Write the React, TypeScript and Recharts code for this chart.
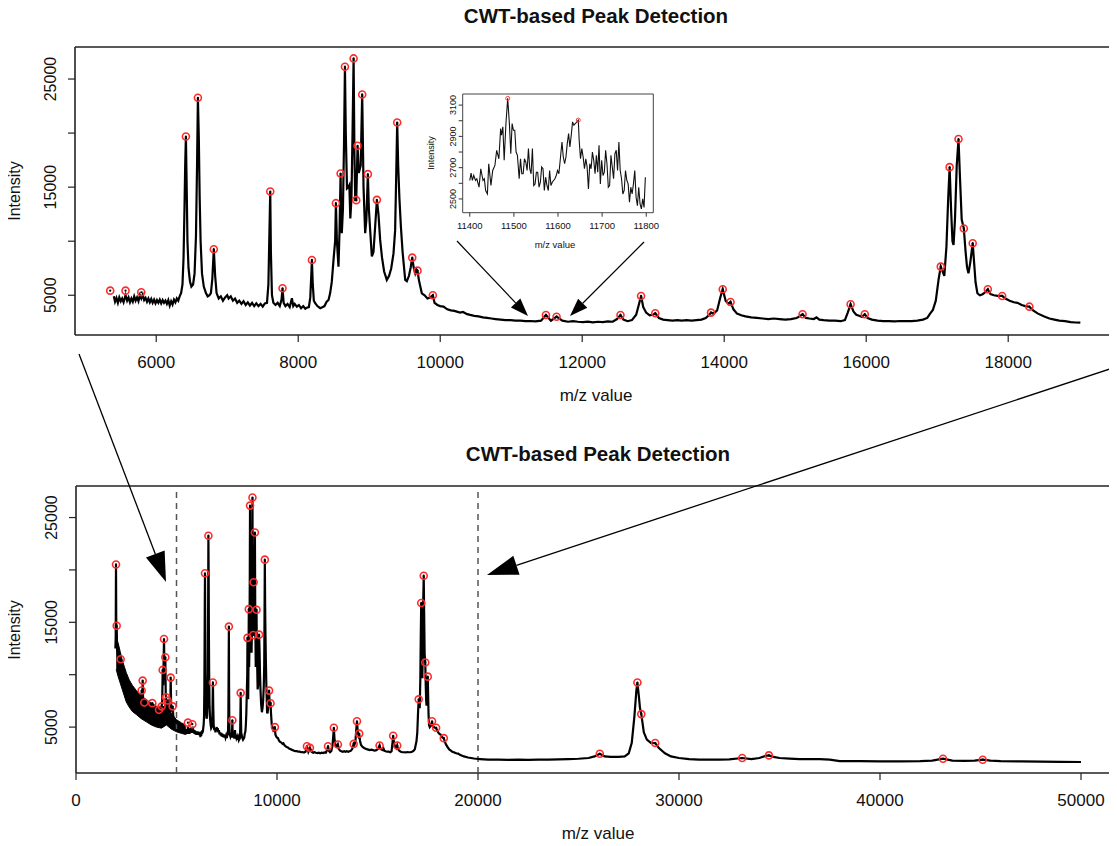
import React from 'react';
import { ComposedChart, Line, Scatter, Area, XAxis, YAxis, ReferenceLine } from 'recharts';

const FONT = '"Liberation Sans", Arial, Helvetica, sans-serif';

// ---------- main spectrum (m/z 5400 - 19000) ----------
const topMz = [
  5403, 5420, 5440, 5460, 5480, 5500, 5520, 5540, 5568, 5590, 5610, 5630, 5650, 5670, 5690, 5710, 5730, 5750, 5770, 5790,
  5810, 5830, 5850, 5870, 5890, 5910, 5930, 5950, 5970, 5990, 6010, 6030, 6050, 6070, 6090, 6110, 6130, 6150, 6170, 6190,
  6210, 6230, 6250, 6270, 6290, 6310, 6330, 6350, 6370, 6385, 6398, 6408, 6418, 6428, 6440, 6455, 6475, 6495, 6519, 6540,
  6560, 6575, 6587, 6600, 6612, 6625, 6645, 6670, 6700, 6725, 6750, 6770, 6790, 6811, 6830, 6850, 6880, 6910, 6940, 6970,
  7000, 7020, 7050, 7080, 7110, 7140, 7170, 7200, 7230, 7260, 7290, 7320, 7350, 7380, 7410, 7440, 7470, 7500, 7530, 7560,
  7580, 7595, 7606, 7615, 7630, 7650, 7680, 7710, 7740, 7765, 7779, 7795, 7820, 7850, 7880, 7911, 7930, 7950, 7981, 8010,
  8040, 8070, 8100, 8121, 8150, 8170, 8185, 8193, 8205, 8220, 8239, 8270, 8310, 8340, 8370, 8400, 8427, 8450, 8473, 8500,
  8520, 8531, 8545, 8567, 8582, 8597, 8605, 8614, 8630, 8645, 8658, 8670, 8687, 8705, 8720, 8734, 8750, 8765, 8780, 8792,
  8803, 8817, 8836, 8853, 8880, 8901, 8920, 8943, 8960, 8981, 8995, 9013, 9037, 9060, 9085, 9108, 9130, 9154, 9180, 9210,
  9248, 9280, 9310, 9342, 9365, 9380, 9394, 9408, 9425, 9446, 9470, 9507, 9530, 9560, 9585, 9606, 9625, 9648, 9665, 9680,
  9700, 9741, 9780, 9820, 9860, 9896, 9920, 9960, 10000, 10046, 10100, 10150, 10200, 10234, 10280, 10320, 10380, 10422, 10480, 10540,
  10600, 10660, 10720, 10780, 10850, 10920, 10990, 11060, 11130, 11200, 11270, 11340, 11420, 11489, 11560, 11639, 11720, 11800, 11870, 11940,
  12010, 12080, 12150, 12220, 12290, 12360, 12430, 12490, 12539, 12580, 12640, 12700, 12760, 12800, 12829, 12860, 12900, 12950, 13000, 13029,
  13080, 13140, 13200, 13270, 13340, 13400, 13470, 13540, 13610, 13680, 13740, 13790, 13814, 13850, 13900, 13945, 13979, 14020, 14060, 14089,
  14130, 14180, 14240, 14300, 14380, 14460, 14540, 14620, 14700, 14780, 14860, 14940, 15020, 15060, 15104, 15150, 15200, 15260, 15300, 15340,
  15400, 15480, 15560, 15640, 15700, 15740, 15780, 15820, 15860, 15900, 15940, 15980, 16020, 16080, 16160, 16240, 16320, 16400, 16480, 16560,
  16640, 16720, 16800, 16860, 16900, 16939, 16980, 17020, 17050, 17075, 17100, 17130, 17155, 17175, 17195, 17215, 17230, 17250, 17275, 17300,
  17320, 17345, 17375, 17400, 17420, 17440, 17465, 17500, 17520, 17540, 17566, 17600, 17640, 17680, 17713, 17750, 17800, 17850, 17915, 17960,
  18020, 18080, 18130, 18190, 18240, 18298, 18350, 18420, 18500, 18580, 18650, 18720, 18800, 18880, 18950, 19016,
];
const topIntensity = [
  4900, 4400, 4750, 4300, 4800, 4450, 4700, 4350, 5000, 4500, 4800, 4350, 4700, 4400, 4900, 4500, 4800, 4450, 5000, 4700,
  5050, 4550, 4750, 4400, 4700, 4350, 4650, 4300, 4600, 4250, 4550, 4300, 4600, 4250, 4550, 4300, 4500, 4200, 4550, 4050,
  4450, 4150, 4600, 4350, 4700, 4500, 4900, 5200, 6000, 8500, 13000, 17000, 19685, 15500, 10000, 7500, 6300, 5800, 6000, 7000,
  10500, 17000, 23268, 19500, 14000, 10000, 7000, 5800, 5200, 4900, 5000, 5200, 6500, 9259, 6800, 5200, 4700, 4900, 4500, 4800,
  5000, 4700, 4900, 4500, 4700, 4300, 4500, 4200, 4450, 4100, 4350, 4050, 4300, 4000, 4250, 4000, 4200, 3950, 4250, 4300,
  6000, 11000, 14593, 9000, 5000, 4300, 4100, 4300, 4000, 4600, 5650, 4300, 4000, 4200, 3900, 4722, 4000, 4200, 3950, 4100,
  3800, 4000, 3750, 3850, 3900, 4800, 7000, 8268, 6000, 4500, 4259, 4000, 3800, 3900, 4000, 4400, 4568, 5200, 6260, 8500,
  10000, 13518, 10000, 7650, 11000, 16259, 12000, 10740, 13000, 19000, 26139, 20000, 14880, 15000, 15190, 12100, 14000, 20000, 26907, 18000,
  13800, 13796, 18824, 16300, 17000, 23574, 15000, 10740, 12000, 16204, 13000, 11050, 8590, 9000, 11500, 13824, 12500, 10120, 8500, 7200,
  6420, 6800, 7500, 8870, 11000, 16000, 20981, 17000, 14000, 11360, 9000, 6420, 6300, 6800, 7600, 8481, 7600, 7030, 7400, 7278,
  6400, 5180, 5000, 4700, 4800, 5000, 4300, 4100, 4000, 3950, 3700, 3600, 3550, 3490, 3400, 3450, 3250, 3180, 3100, 3050,
  2950, 2900, 2850, 2800, 2750, 2700, 2700, 2650, 2650, 2600, 2620, 2580, 2650, 3176, 2650, 3019, 2650, 2550, 2600, 2550,
  2520, 2560, 2500, 2550, 2520, 2580, 2550, 2800, 3176, 2750, 2600, 2700, 3200, 4200, 4935, 3900, 3400, 3150, 3200, 3333,
  2900, 2750, 2700, 2650, 2700, 2650, 2700, 2650, 2700, 2750, 2900, 3200, 3394, 3300, 3600, 4800, 5555, 4500, 4200, 4380,
  3700, 3300, 3150, 3050, 2950, 2900, 2850, 2800, 2850, 2800, 2750, 2800, 2900, 3050, 3240, 2900, 2850, 2800, 2950, 2750,
  2700, 2650, 2650, 2600, 2700, 3400, 4167, 3500, 3200, 3100, 3000, 3240, 2900, 2750, 2650, 2600, 2600, 2580, 2620, 2600,
  2600, 2650, 2750, 2900, 3300, 3640, 4500, 6500, 7650, 7200, 6800, 9500, 14000, 16850, 13000, 10000, 9660, 12000, 17000, 19450,
  16000, 12000, 11170, 9000, 7600, 7040, 8000, 9815, 8000, 6200, 5185, 5000, 5100, 5300, 5555, 5100, 5000, 4950, 4935, 4700,
  4500, 4350, 4300, 4100, 4000, 3944, 3600, 3300, 3050, 2850, 2750, 2650, 2600, 2520, 2480, 2463,
];
const topPeakMz = [
  5352, 5568, 5789, 6418, 6587, 6811, 7606, 7779, 8193, 8531, 8597, 8658, 8780, 8817, 8836, 8901, 8981, 9108, 9394, 9606,
  9680, 9896, 11489, 11639, 12539, 12829, 13029, 13814, 13979, 14089, 15104, 15780, 15980, 17050, 17175, 17300, 17375, 17500, 17713, 17915,
  18298,
];
const topPeakIntensity = [
  5426, 5426, 5278, 19685, 23268, 9259, 14593, 5650, 8268, 13518, 16259, 26139, 26907, 13796, 18824, 23574, 16204, 13824, 20981, 8481,
  7278, 5000, 3176, 3019, 3176, 4935, 3333, 3394, 5555, 4380, 3240, 4167, 3240, 7650, 16850, 19450, 11170, 9815, 5555, 4935,
  3944,
];

// ---------- full spectrum extra parts (bottom panel) ----------
const lowMz = [
  1960, 1975, 1990, 2005, 2024, 2045, 2080, 2120, 2160, 2222, 2280, 2350, 2420, 2500, 2580, 2660, 2740, 2820, 2900, 2980,
  3060, 3140, 3220, 3267, 3290, 3317, 3345, 3400, 3450, 3520, 3600, 3680, 3740, 3797, 3850, 3920, 4000, 4060, 4129, 4180,
  4230, 4262, 4290, 4312, 4340, 4378, 4410, 4444, 4465, 4478, 4520, 4560, 4600, 4650, 4690, 4710, 4740, 4808, 4850, 4920,
  5000, 5080, 5160, 5240, 5320, 5400,
];
const lowIntensity = [
  12500, 13500, 20524, 14000, 14676, 12500, 12000, 11500, 11000, 11476, 10300, 9800, 9400, 9000, 8600, 8200, 7900, 7600, 7400, 7200,
  7000, 6900, 6800, 8486, 7000, 9438, 7100, 7343, 6500, 6400, 6300, 6200, 6300, 7286, 6100, 6000, 5900, 5900, 6648, 5800,
  6000, 6980, 7500, 10457, 9000, 13410, 9500, 11667, 8000, 7850, 7000, 7533, 6500, 6200, 6500, 9724, 6500, 6980, 5800, 5600,
  5400, 5300, 5200, 5150, 5100, 5000,
];
const bandMz = [2000, 2100, 2200, 2300, 2400, 2500, 2650, 2800, 3000, 3250, 3500, 3750, 4000, 4250, 4500, 4750, 5000, 5250, 5450];
const bandLow = [10500, 9800, 9200, 8600, 8000, 7400, 6900, 6500, 6200, 5800, 5500, 5200, 5000, 4900, 5200, 4800, 4550, 4400, 4300];
const bandHigh = [13500, 13000, 12200, 11400, 10800, 10200, 9500, 9000, 8500, 8000, 7600, 7300, 7000, 6800, 7200, 6300, 5700, 5400, 5200];
const highMz = [
  19100, 19300, 19500, 19800, 20100, 20500, 21000, 21500, 22000, 22500, 23000, 23500, 24000, 24500, 25000, 25500, 25800, 26060, 26300, 26600,
  27000, 27300, 27500, 27650, 27780, 27880, 27930, 28000, 28060, 28124, 28250, 28400, 28600, 28816, 29000, 29300, 29600, 30000, 30500, 31000,
  31500, 32000, 32500, 33144, 33600, 34000, 34300, 34473, 34700, 35000, 35500, 36000, 37000, 37500, 38000, 39000, 40000, 41000, 42000, 42600,
  43134, 43600, 44200, 44700, 45110, 45500, 46000, 47000, 48000, 49000, 50000,
];
const highIntensity = [
  2350, 2200, 2100, 2000, 1950, 1900, 1900, 1880, 1900, 1880, 1900, 1900, 1920, 1950, 1980, 2050, 2200, 2457, 2200, 2150,
  2150, 2200, 2500, 3500, 6000, 8500, 9250, 8000, 6800, 6238, 4500, 3800, 3500, 3476, 3000, 2500, 2200, 2050, 1950, 1900,
  1900, 1900, 1920, 2048, 1950, 2050, 2250, 2300, 2150, 2050, 2000, 1950, 1950, 1900, 1750, 1750, 1720, 1720, 1750, 1800,
  1981, 1800, 1780, 1800, 1886, 1800, 1750, 1720, 1700, 1680, 1667,
];
const lowPeakMz = [1990, 2024, 2222, 3267, 3317, 3400, 3797, 4129, 4262, 4312, 4378, 4444, 4478, 4560, 4710, 4808];
const lowPeakIntensity = [20524, 14676, 11476, 8486, 9438, 7343, 7286, 6648, 6980, 10457, 13410, 11667, 7850, 7533, 9724, 6980];
const highPeakMz = [26060, 27930, 28124, 28816, 33144, 34473, 43134, 45110];
const highPeakIntensity = [2457, 9250, 6238, 3476, 2048, 2300, 1981, 1886];

// ---------- inset (m/z 11400 - 11800) ----------
const insetMz = [
  11400, 11403, 11406, 11409, 11413, 11416, 11421, 11425, 11430, 11433, 11436, 11440, 11443, 11448, 11452, 11457, 11461, 11466, 11470, 11472,
  11475, 11478, 11482, 11486, 11490, 11493, 11496, 11499, 11502, 11505, 11508, 11512, 11515, 11518, 11521, 11524, 11527, 11530, 11533, 11536,
  11539, 11542, 11545, 11548, 11551, 11554, 11557, 11560, 11563, 11566, 11569, 11572, 11575, 11578, 11581, 11584, 11587, 11590, 11593, 11596,
  11599, 11602, 11605, 11609, 11612, 11615, 11618, 11621, 11624, 11627, 11630, 11633, 11636, 11639, 11642, 11646, 11648, 11651, 11654, 11657,
  11660, 11663, 11666, 11669, 11672, 11675, 11678, 11681, 11684, 11687, 11690, 11693, 11696, 11699, 11702, 11705, 11708, 11711, 11714, 11717,
  11720, 11723, 11726, 11729, 11732, 11735, 11738, 11741, 11744, 11747, 11750, 11753, 11756, 11759, 11762, 11765, 11768, 11771, 11774, 11777,
  11780, 11783, 11786, 11789, 11792, 11795, 11798,
];
const insetIntensity = [
  2618, 2665, 2618, 2650, 2618, 2629, 2575, 2693, 2618, 2629, 2554, 2532, 2725, 2586, 2682, 2714, 2811, 2757, 2950, 2907,
  2961, 2747, 2982, 3143, 2972, 2789, 2982, 2939, 2939, 2800, 2779, 2629, 2757, 2661, 2661, 2757, 2736, 2682, 2822, 2693,
  2661, 2822, 2586, 2596, 2671, 2671, 2575, 2607, 2704, 2693, 2554, 2639, 2586, 2554, 2682, 2586, 2607, 2618, 2629, 2650,
  2682, 2661, 2747, 2864, 2768, 2725, 2768, 2854, 2918, 2832, 2907, 2993, 2972, 2982, 2990, 3004, 2875, 2757, 2822, 2768,
  2693, 2757, 2704, 2564, 2725, 2693, 2800, 2747, 2661, 2779, 2671, 2843, 2596, 2747, 2650, 2671, 2811, 2725, 2575, 2586,
  2779, 2704, 2629, 2789, 2811, 2682, 2864, 2682, 2629, 2532, 2554, 2682, 2618, 2596, 2479, 2575, 2532, 2596, 2682, 2511,
  2457, 2575, 2468, 2436, 2500, 2446, 2639,
];
const insetPeakMz = [11486, 11646];
const insetPeakIntensity = [3143, 3004];

// ---------- axis ticks ----------
const topXTicks = [6000, 8000, 10000, 12000, 14000, 16000, 18000];
const bottomXTicks = [0, 10000, 20000, 30000, 40000, 50000];
const yTicks = [5000, 10000, 15000, 20000, 25000];
const yLabeled = [5000, 15000, 25000];
const insetXTicks = [11400, 11500, 11600, 11700, 11800];
const insetYTicks = [2500, 2600, 2700, 2800, 2900, 3000, 3100];
const insetYLabeled = [2500, 2700, 2900, 3100];
const zoomWindow = [5000, 20000];

// ---------- annotation arrows (page pixels) ----------
const arrows = [
  { x1: 79, y1: 354, x2: 166, y2: 582, len: 30, half: 10, width: 1.3 },
  { x1: 1125, y1: 364, x2: 487, y2: 575, len: 31, half: 10, width: 1.3 },
  { x1: 457, y1: 241, x2: 528, y2: 316, len: 18, half: 6.5, width: 1.2 },
  { x1: 644, y1: 242, x2: 570, y2: 316, len: 18, half: 6.5, width: 1.2 },
];

// ---------- build tables ----------
const topData = topMz.map((mz, i) => ({ mz, int: topIntensity[i] }));
const topPeaks = topPeakMz.map((mz, i) => ({ mz, int: topPeakIntensity[i] }));
const bottomData = [
  ...lowMz.map((mz, i) => ({ mz, int: lowIntensity[i] })),
  ...topData,
  ...highMz.map((mz, i) => ({ mz, int: highIntensity[i] })),
];
const bandData = bandMz.map((mz, i) => ({ mz, band: [bandLow[i], bandHigh[i]] }));
const bottomPeaks = [
  ...lowPeakMz.map((mz, i) => ({ mz, int: lowPeakIntensity[i] })),
  ...topPeaks.filter((p) => p.mz > 5500),
  ...highPeakMz.map((mz, i) => ({ mz, int: highPeakIntensity[i] })),
];
const insetData = insetMz.map((mz, i) => ({ mz, int: insetIntensity[i] }));
const insetPeaks = insetPeakMz.map((mz, i) => ({ mz, int: insetPeakIntensity[i] }));

const PeakMark = (props: any) => {
  const { cx, cy } = props;
  if (cx == null || cy == null) return <g />;
  return (
    <g>
      <circle cx={cx} cy={cy} r={3.5} fill="none" stroke="#ff2b2b" strokeWidth={1.6} />
      <circle cx={cx} cy={cy} r={1.1} fill="#000" />
    </g>
  );
};
const InsetMark = (props: any) => {
  const { cx, cy } = props;
  if (cx == null || cy == null) return <g />;
  return <circle cx={cx} cy={cy} r={2} fill="none" stroke="#ff3b3b" strokeWidth={1} />;
};

const makeYTick = (labeled: number[], fontSize: number, baseX: number) => (props: any) => {
  const { y, payload } = props;
  if (!labeled.includes(payload.value)) return <g />;
  return (
    <text x={baseX} y={y} transform={`rotate(-90 ${baseX} ${y})`} textAnchor="middle" fontSize={fontSize} fontFamily={FONT} fill="#111">
      {payload.value}
    </text>
  );
};

const textStyle = (x: number, y: number, size: number, bold = false, rotate = false): React.CSSProperties => ({
  position: 'absolute',
  left: x,
  top: y,
  transform: `translate(-50%, -50%)${rotate ? ' rotate(-90deg)' : ''}`,
  fontFamily: FONT,
  fontSize: size,
  fontWeight: bold ? 700 : 400,
  color: '#111',
  whiteSpace: 'nowrap',
  lineHeight: 1,
});

const boxStroke = { stroke: '#222', strokeWidth: 1.6 };

const TopChart = () => (
  <ComposedChart width={1140} height={420} margin={{ top: 47, right: 15, bottom: 35, left: 0 }} data={topData}>
    <XAxis dataKey="mz" type="number" domain={[4856, 19645]} allowDataOverflow ticks={topXTicks} interval={0}
      height={50} tickSize={7} tickMargin={14} axisLine={false} tickLine={{ stroke: '#222', strokeWidth: 1.2 }}
      tick={{ fontSize: 17, fill: '#111', fontFamily: FONT }} />
    <YAxis type="number" domain={[1324, 27963]} allowDataOverflow ticks={yTicks} interval={0} width={75}
      tickSize={7} axisLine={false} tickLine={{ stroke: '#222', strokeWidth: 1.2 }} tick={makeYTick(yLabeled, 16, 56)} />
    <ReferenceLine y={27963} {...boxStroke} />
    <ReferenceLine y={1324} {...boxStroke} />
    <ReferenceLine x={4856} {...boxStroke} />
    <Line dataKey="int" type="linear" stroke="#000" strokeWidth={2.2} dot={false} isAnimationActive={false} />
    <Scatter data={topPeaks} dataKey="int" shape={PeakMark} isAnimationActive={false} />
  </ComposedChart>
);

const BottomChart = () => (
  <ComposedChart width={1140} height={426} margin={{ top: 66, right: 15, bottom: 23, left: 0 }} data={bottomData}>
    <XAxis dataKey="mz" type="number" domain={[0, 52189]} allowDataOverflow ticks={bottomXTicks} interval={0}
      height={50} tickSize={7} tickMargin={14} axisLine={false} tickLine={{ stroke: '#222', strokeWidth: 1.2 }}
      tick={{ fontSize: 17, fill: '#111', fontFamily: FONT }} />
    <YAxis type="number" domain={[619, 28010]} allowDataOverflow ticks={yTicks} interval={0} width={76}
      tickSize={7} axisLine={false} tickLine={{ stroke: '#222', strokeWidth: 1.2 }} tick={makeYTick(yLabeled, 16, 57)} />
    <ReferenceLine y={28010} {...boxStroke} />
    <ReferenceLine y={619} {...boxStroke} />
    <ReferenceLine x={0} {...boxStroke} />
    {zoomWindow.map((x) => (
      <ReferenceLine key={x} x={x} stroke="#555" strokeWidth={1.5} strokeDasharray="6 5" />
    ))}
    <Area data={bandData} dataKey="band" type="linear" stroke="#000" strokeWidth={1} fill="#000" fillOpacity={1} isAnimationActive={false} />
    <Line dataKey="int" type="linear" stroke="#000" strokeWidth={2.2} dot={false} isAnimationActive={false} />
    <Scatter data={bottomPeaks} dataKey="int" shape={PeakMark} isAnimationActive={false} />
  </ComposedChart>
);

const InsetChart = () => (
  <ComposedChart width={250} height={180} margin={{ top: 14, right: 16.7, bottom: 7.3, left: 0 }} data={insetData}>
    <XAxis dataKey="mz" type="number" domain={[11384, 11816]} allowDataOverflow ticks={insetXTicks} interval={0}
      height={40} tickSize={4} tickMargin={6} axisLine={false} tickLine={{ stroke: '#333' }}
      tick={{ fontSize: 9.5, fill: '#111', fontFamily: FONT }} />
    <YAxis type="number" domain={[2412, 3171]} allowDataOverflow ticks={insetYTicks} interval={0} width={42.7}
      tickSize={4} axisLine={false} tickLine={{ stroke: '#333' }} tick={makeYTick(insetYLabeled, 9, 36.5)} />
    <ReferenceLine y={3171} stroke="#444" />
    <ReferenceLine y={2412} stroke="#444" />
    <ReferenceLine x={11384} stroke="#444" />
    <ReferenceLine x={11816} stroke="#444" />
    <Line dataKey="int" type="linear" stroke="#111" strokeWidth={1.1} dot={false} isAnimationActive={false} />
    <Scatter data={insetPeaks} dataKey="int" shape={InsetMark} isAnimationActive={false} />
  </ComposedChart>
);

const Arrow = ({ a }: { a: typeof arrows[number] }) => {
  const dx = a.x2 - a.x1;
  const dy = a.y2 - a.y1;
  const L = Math.hypot(dx, dy);
  const ux = dx / L;
  const uy = dy / L;
  const bx = a.x2 - ux * a.len;
  const by = a.y2 - uy * a.len;
  const nx = -uy;
  const ny = ux;
  const pts = `${a.x2},${a.y2} ${bx + nx * a.half},${by + ny * a.half} ${bx - nx * a.half},${by - ny * a.half}`;
  return (
    <g>
      <line x1={a.x1} y1={a.y1} x2={bx} y2={by} stroke="#000" strokeWidth={a.width} />
      <polygon points={pts} fill="#000" />
    </g>
  );
};

export default function App() {
  return (
    <div style={{ position: 'relative', marginLeft: -8, marginTop: -8, width: 1117, height: 846, overflow: 'hidden', background: '#fff' }}>
      <div style={{ position: 'absolute', left: 0, top: 0, width: 1140 }}>
        <TopChart />
      </div>
      <div style={{ position: 'absolute', left: 0, top: 420, width: 1140 }}>
        <BottomChart />
      </div>
      <div style={{ position: 'absolute', left: 420, top: 80, background: '#fff' }}>
        <InsetChart />
      </div>

      <div style={textStyle(596, 16, 20.5, true)}>CWT-based Peak Detection</div>
      <div style={textStyle(596, 395, 17)}>m/z value</div>
      <div style={textStyle(15, 191, 16, false, true)}>Intensity</div>

      <div style={textStyle(598, 454, 20.5, true)}>CWT-based Peak Detection</div>
      <div style={textStyle(598, 833, 17)}>m/z value</div>
      <div style={textStyle(15, 630, 16, false, true)}>Intensity</div>

      <div style={textStyle(555, 245, 9.5)}>m/z value</div>
      <div style={textStyle(431, 153, 9, false, true)}>Intensity</div>

      <svg width={1117} height={846} style={{ position: 'absolute', left: 0, top: 0, pointerEvents: 'none' }}>
        {arrows.map((a, i) => (
          <Arrow key={i} a={a} />
        ))}
      </svg>
    </div>
  );
}
